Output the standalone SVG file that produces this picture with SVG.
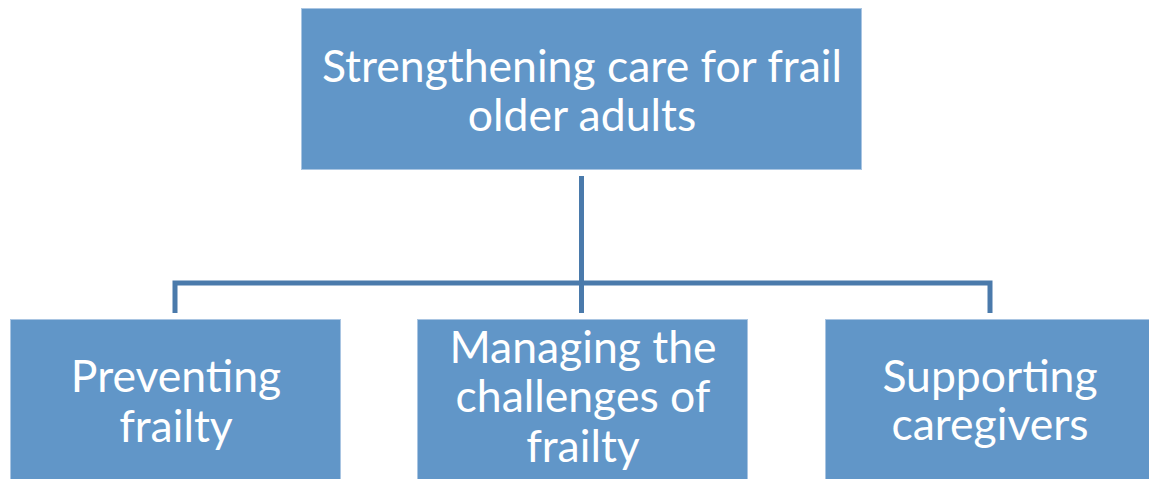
<svg xmlns="http://www.w3.org/2000/svg" width="1149" height="479" viewBox="0 0 1149 479">
<style>
.box{fill:#6196c8;stroke:#a9c5e2;stroke-width:1}
.t{font-family:Lato,"Open Sans","DejaVu Sans",sans-serif;font-size:44.5px;fill:#ffffff;text-anchor:middle}
.c{fill:none;stroke:#4a7aab;stroke-width:5;stroke-linejoin:miter}
</style>
<rect width="1149" height="479" fill="#ffffff"/>
<g id="connectors">
<path class="c" d="M581.5 176V283M175 313V283H990V313M581.5 283V313"/>
</g>
<g id="root">
<rect class="box" x="301.5" y="8.5" width="560" height="161"/>
<text class="t" x="582" y="82">Strengthening care for frail</text>
<text class="t" x="582" y="131">older adults</text>
</g>
<g id="preventing">
<rect class="box" x="10.5" y="319.5" width="330" height="170"/>
<text class="t" x="176" y="392">Preventing</text>
<text class="t" x="176" y="442">frailty</text>
</g>
<g id="managing">
<rect class="box" x="417.5" y="319.5" width="330" height="170"/>
<text class="t" x="583" y="363">Managing the</text>
<text class="t" x="583" y="412">challenges of</text>
<text class="t" x="583" y="462">frailty</text>
</g>
<g id="supporting">
<rect class="box" x="825.5" y="319.5" width="330" height="170"/>
<text class="t" x="990" y="392">Supporting</text>
<text class="t" x="990" y="440">caregivers</text>
</g>
</svg>
